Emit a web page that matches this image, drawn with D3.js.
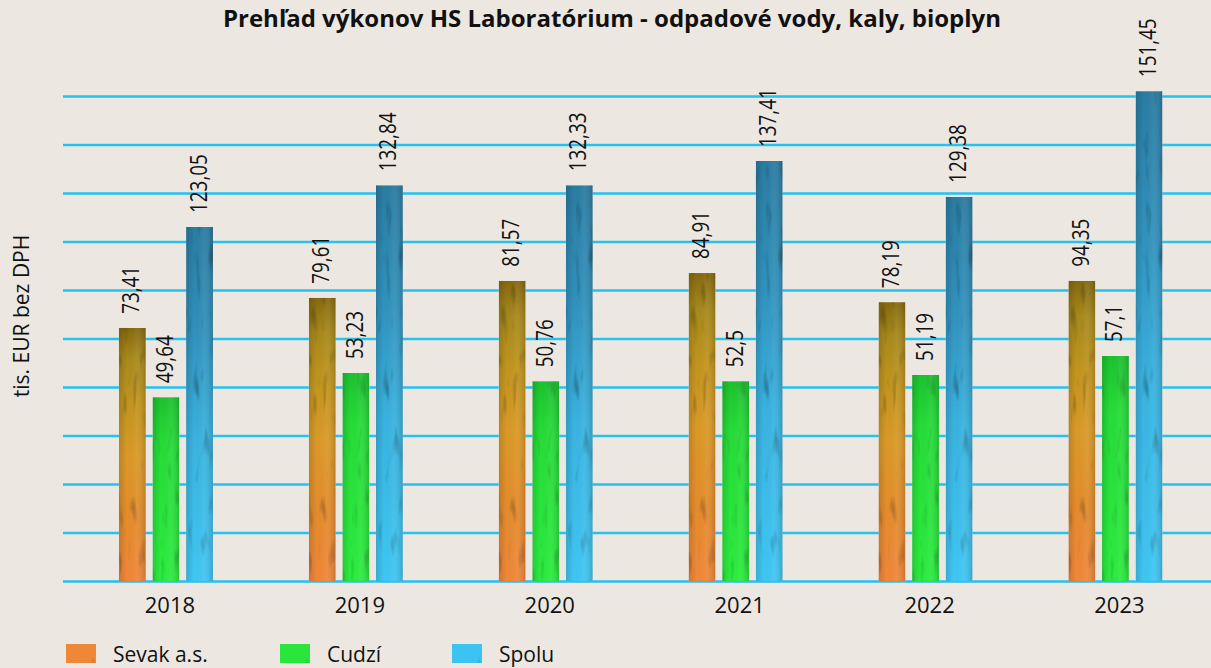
<!DOCTYPE html>
<html>
<head>
<meta charset="utf-8">
<script src="https://cdn.jsdelivr.net/npm/d3@7/dist/d3.min.js"></script>
<style>
    html, body { margin: 0; padding: 0; background: #ece8e1; }
    svg { display: block; }
    text { font-family: "Open Sans", "Noto Sans", sans-serif; fill: #111; }
</style>
</head>
<body>
<svg id="chart"></svg>
<script>
var WIDTH = 1211;
var HEIGHT = 668;

var title = "Prehľad výkonov HS Laboratórium - odpadové vody, kaly, bioplyn";
var yTitle = "tis. EUR bez DPH";
var years = ["2018", "2019", "2020", "2021", "2022", "2023"];
var seriesNames = ["Sevak a.s.", "Cudzí", "Spolu"];

// label values
var sevak = [73.41, 79.61, 81.57, 84.91, 78.19, 94.35];
var cudzi = [49.64, 53.23, 50.76, 52.5, 51.19, 57.1];
var spolu = [123.05, 132.84, 132.33, 137.41, 129.38, 151.45];

// bar lengths as drawn in the source, in gridline steps
// (the source bars are not proportional to their labels)
var sevakDrawn = [5.22, 5.84, 6.19, 6.35, 5.75, 6.19];
var cudziDrawn = [3.79, 4.29, 4.12, 4.12, 4.25, 4.64];
var spoluDrawn = [7.30, 8.16, 8.16, 8.66, 7.92, 10.10];

var gridMax = 10;

var svg = d3.select("#chart")
    .attr("width", WIDTH)
    .attr("height", HEIGHT);

svg.append("rect")
    .attr("width", WIDTH)
    .attr("height", HEIGHT)
    .style("fill", "#ece8e1");

var defs = svg.append("defs");

function addGradient(id, stops) {
    var g = defs.append("linearGradient")
        .attr("id", id)
        .attr("x1", 0).attr("y1", 0)
        .attr("x2", 0).attr("y2", 1);
    stops.forEach(function (s) {
        g.append("stop").attr("offset", s[0]).attr("stop-color", s[1]);
    });
}
addGradient("gSevak", [[0, "#86690f"], [0.12, "#a8891c"], [0.3, "#c2951e"], [0.5, "#da9a28"], [0.75, "#e48c2c"], [1, "#f08739"]]);
addGradient("gCudzi", [[0, "#1cc22f"], [0.25, "#26dc38"], [1, "#2cec3f"]]);
addGradient("gSpolu", [[0, "#2a7ca2"], [0.3, "#3192bd"], [0.6, "#39b3e0"], [1, "#3fc7f4"]]);

var shade = defs.append("linearGradient")
    .attr("id", "gShade")
    .attr("x1", 0).attr("y1", 0)
    .attr("x2", 1).attr("y2", 0);
shade.append("stop").attr("offset", 0).attr("stop-color", "#000").attr("stop-opacity", 0.14);
shade.append("stop").attr("offset", 0.3).attr("stop-color", "#000").attr("stop-opacity", 0);
shade.append("stop").attr("offset", 0.65).attr("stop-color", "#fff").attr("stop-opacity", 0.05);
shade.append("stop").attr("offset", 1).attr("stop-color", "#000").attr("stop-opacity", 0.16);

// mottled texture like the source bars
var grain = defs.append("filter")
    .attr("id", "grain")
    .attr("x", 0).attr("y", 0)
    .attr("width", 1).attr("height", 1)
    .attr("color-interpolation-filters", "sRGB");
grain.append("feTurbulence")
    .attr("type", "fractalNoise")
    .attr("baseFrequency", "0.14 0.03")
    .attr("numOctaves", 2)
    .attr("seed", 7)
    .attr("result", "n");
grain.append("feColorMatrix")
    .attr("in", "n")
    .attr("type", "matrix")
    .attr("values", "0.33 0.33 0.33 0 0  0.33 0.33 0.33 0 0  0.33 0.33 0.33 0 0  0 0 0 0 1")
    .attr("result", "g");
var ct = grain.append("feComponentTransfer").attr("in", "g").attr("result", "g2");
["feFuncR", "feFuncG", "feFuncB"].forEach(function (f) {
    ct.append(f).attr("type", "linear").attr("slope", 1.3).attr("intercept", 0.42);
});
grain.append("feBlend")
    .attr("in", "SourceGraphic")
    .attr("in2", "g2")
    .attr("mode", "multiply")
    .attr("result", "m");
grain.append("feComposite")
    .attr("in", "m")
    .attr("in2", "SourceGraphic")
    .attr("operator", "in");

var fills = ["url(#gSevak)", "url(#gCudzi)", "url(#gSpolu)"];
var legendColors = ["#ee8838", "#2ae63c", "#3cc3f1"];

var x0 = d3.scaleBand()
    .domain(years)
    .range([71, 1210.4])
    .padding(0);

var x1 = d3.scaleBand()
    .domain(seriesNames)
    .range([-47, 47])
    .paddingInner(0.2);

var y = d3.scaleLinear()
    .domain([0, gridMax])
    .range([581, 96]);

// gridlines
var yAxis = d3.axisLeft(y)
    .ticks(gridMax)
    .tickSize(-(WIDTH - 63))
    .tickFormat("");
var gy = svg.append("g")
    .attr("transform", "translate(63,0)")
    .call(yAxis);
gy.select(".domain").remove();
gy.selectAll(".tick line")
    .style("stroke", "#25c1ef")
    .style("stroke-width", 2.5);

// year labels
var xAxis = d3.axisBottom(x0).tickSize(0).tickPadding(0);
var gx = svg.append("g")
    .attr("transform", "translate(4,597)")
    .call(xAxis);
gx.select(".domain").remove();
gx.selectAll("text")
    .attr("dy", "0.71em")
    .style("font-family", "\"Open Sans\", sans-serif")
    .style("font-size", "22px")
    .style("fill", "#111");

var rows = years.map(function (yr, i) {
    return {
        year: yr,
        bars: [
            { name: seriesNames[0], value: sevak[i], drawn: sevakDrawn[i], k: 0 },
            { name: seriesNames[1], value: cudzi[i], drawn: cudziDrawn[i], k: 1 },
            { name: seriesNames[2], value: spolu[i], drawn: spoluDrawn[i], k: 2 }
        ]
    };
});

var groups = svg.selectAll(".grp")
    .data(rows)
    .enter().append("g")
    .attr("class", "grp")
    .attr("transform", function (d) {
        return "translate(" + (x0(d.year) + x0.bandwidth() / 2) + ",0)";
    });

var bars = groups.selectAll(".bar")
    .data(function (d) { return d.bars; })
    .enter().append("g")
    .attr("class", "bar");

bars.append("rect")
    .attr("x", function (d) { return x1(d.name); })
    .attr("y", function (d) { return y(d.drawn); })
    .attr("width", x1.bandwidth())
    .attr("height", function (d) { return y(0) - y(d.drawn); })
    .style("fill", function (d) { return fills[d.k]; })
    .attr("filter", "url(#grain)");

bars.append("rect")
    .attr("x", function (d) { return x1(d.name); })
    .attr("y", function (d) { return y(d.drawn); })
    .attr("width", x1.bandwidth())
    .attr("height", function (d) { return y(0) - y(d.drawn); })
    .style("fill", "url(#gShade)");

// narrow the labels a little, the source font is condensed
bars.append("text")
    .attr("transform", function (d) {
        var cx = x1(d.name) + x1.bandwidth() / 2 + 7;
        return "translate(" + cx + "," + (y(d.drawn) - 14) + ") rotate(-90) scale(0.82,1)";
    })
    .style("font-size", "23px")
    .text(function (d) { return String(d.value).replace(".", ","); });

// title
svg.append("text")
    .attr("x", 612)
    .attr("y", 27)
    .attr("text-anchor", "middle")
    .style("font-size", "24px")
    .style("font-weight", "bold")
    .text(title);

// y axis title
svg.append("text")
    .attr("transform", "translate(29,316) rotate(-90)")
    .attr("text-anchor", "middle")
    .style("font-size", "21px")
    .text(yTitle);

// legend
var legendX = [66, 280, 452];
var legend = svg.selectAll(".leg")
    .data(seriesNames)
    .enter().append("g")
    .attr("class", "leg")
    .attr("transform", function (d, i) { return "translate(" + legendX[i] + ",644)"; });
legend.append("rect")
    .attr("width", 30)
    .attr("height", 19)
    .style("fill", function (d, i) { return legendColors[i]; })
    .attr("filter", "url(#grain)");
legend.append("text")
    .attr("x", 47)
    .attr("y", 18)
    .style("font-size", "21px")
    .text(function (d) { return d; });
</script>
</body>
</html>
